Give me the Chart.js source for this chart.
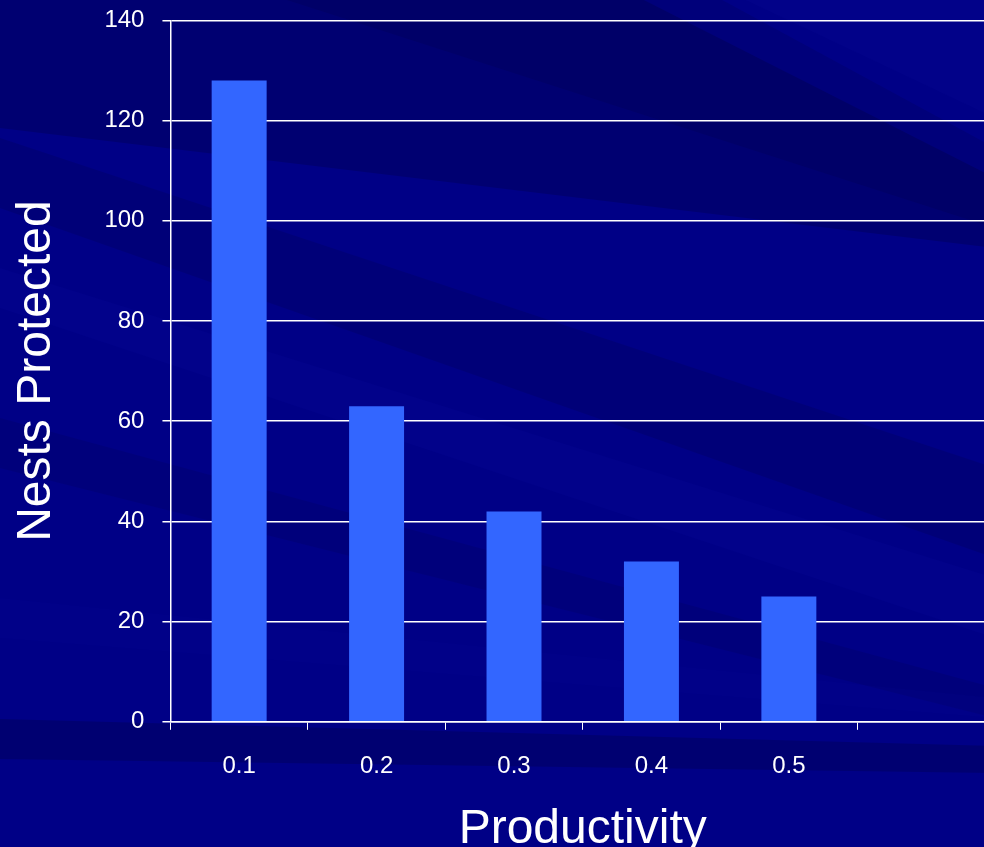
<!DOCTYPE html>
<html>
<head>
<meta charset="utf-8">
<script src="https://cdn.jsdelivr.net/npm/chart.js@4/dist/chart.umd.min.js"></script>
<style>
  html, body { margin: 0; padding: 0; background: #000086; overflow: hidden; }
  #wrap { width: 984px; height: 847px; overflow: hidden; position: relative; }
  canvas { display: block; margin-top: -12px; }
</style>
</head>
<body>
<div id="wrap"><canvas id="c" width="995" height="867"></canvas></div>
<script>
// Productivity classes (last slot left empty on the axis)
const categories = ['0.1', '0.2', '0.3', '0.4', '0.5', ''];
// Number of nests protected per productivity class
const nestsProtected = [128, 63, 42, 32, 25, null];
// Y axis range
const yMin = 0;
const yMax = 140;
const yStep = 20;

// Slide-style backdrop: navy fill with soft diagonal streaks
const backdrop = {
  id: 'backdrop',
  beforeDraw(chart) {
    const ctx = chart.ctx;
    const w = chart.width, h = chart.height;
    ctx.save();
    ctx.fillStyle = '#000086';
    ctx.fillRect(0, 0, w, h);
    const bands = [
      { p: [[0, 0], [620, 0], [995, 190], [995, 260], [0, 140]], c: 'rgba(0,0,40,0.22)' },
      { p: [[0, 150], [0, 220], [995, 570], [995, 480]], c: 'rgba(0,0,50,0.16)' },
      { p: [[250, 0], [700, 0], [995, 160], [995, 240]], c: 'rgba(0,0,50,0.14)' },
      { p: [[720, 0], [995, 0], [995, 130]], c: 'rgba(20,20,170,0.10)' },
      { p: [[0, 280], [0, 320], [995, 650], [995, 590]], c: 'rgba(20,20,190,0.08)' },
      { p: [[0, 430], [0, 480], [995, 730], [995, 700]], c: 'rgba(0,0,50,0.12)' },
      { p: [[0, 610], [0, 650], [995, 730], [995, 710]], c: 'rgba(20,20,170,0.07)' },
      { p: [[0, 731], [0, 771], [995, 785], [995, 758]], c: 'rgba(0,0,40,0.22)' }
    ];
    bands.forEach(b => {
      ctx.beginPath();
      b.p.forEach((pt, i) => i ? ctx.lineTo(pt[0], pt[1]) : ctx.moveTo(pt[0], pt[1]));
      ctx.closePath();
      ctx.fillStyle = b.c;
      ctx.fill();
    });
    ctx.restore();
  }
};

const FONT = 'Arial, "Liberation Sans", sans-serif';

new Chart(document.getElementById('c'), {
  type: 'bar',
  data: {
    labels: categories,
    datasets: [{
      label: 'Nests Protected',
      data: nestsProtected,
      backgroundColor: '#3366FF',
      borderWidth: 0,
      categoryPercentage: 1.0,
      barPercentage: 0.4
    }]
  },
  options: {
    responsive: false,
    animation: false,
    devicePixelRatio: 1,
    layout: { padding: { left: 18, top: 8, right: 0, bottom: 6 } },
    plugins: {
      legend: { display: false },
      tooltip: { enabled: false }
    },
    scales: {
      x: {
        offset: true,
        grid: {
          offset: true,
          drawOnChartArea: false,
          drawTicks: true,
          tickLength: 8,
          color: '#FFFFFF',
          lineWidth: 1
        },
        border: { display: true, color: '#FFFFFF', width: 1.5 },
        ticks: {
          color: '#FFFFFF',
          font: { family: FONT, size: 24 },
          padding: 22,
          maxRotation: 0,
          autoSkip: false
        },
        title: {
          display: true,
          text: 'Productivity',
          color: '#FFFFFF',
          font: { family: FONT, size: 48, lineHeight: 0.8 },
          padding: { top: 8, bottom: 0 }
        }
      },
      y: {
        min: yMin,
        max: yMax,
        grid: {
          color: '#FFFFFF',
          lineWidth: 1.5,
          drawTicks: true,
          tickLength: 8
        },
        border: { display: true, color: '#FFFFFF', width: 1.5 },
        ticks: {
          stepSize: yStep,
          color: '#FFFFFF',
          font: { family: FONT, size: 24 },
          padding: 18
        },
        title: {
          display: true,
          text: 'Nests Protected',
          color: '#FFFFFF',
          font: { family: FONT, size: 48, lineHeight: 0.8 },
          padding: { top: 0, bottom: 30 }
        }
      }
    }
  },
  plugins: [backdrop]
});
</script>
</body>
</html>
